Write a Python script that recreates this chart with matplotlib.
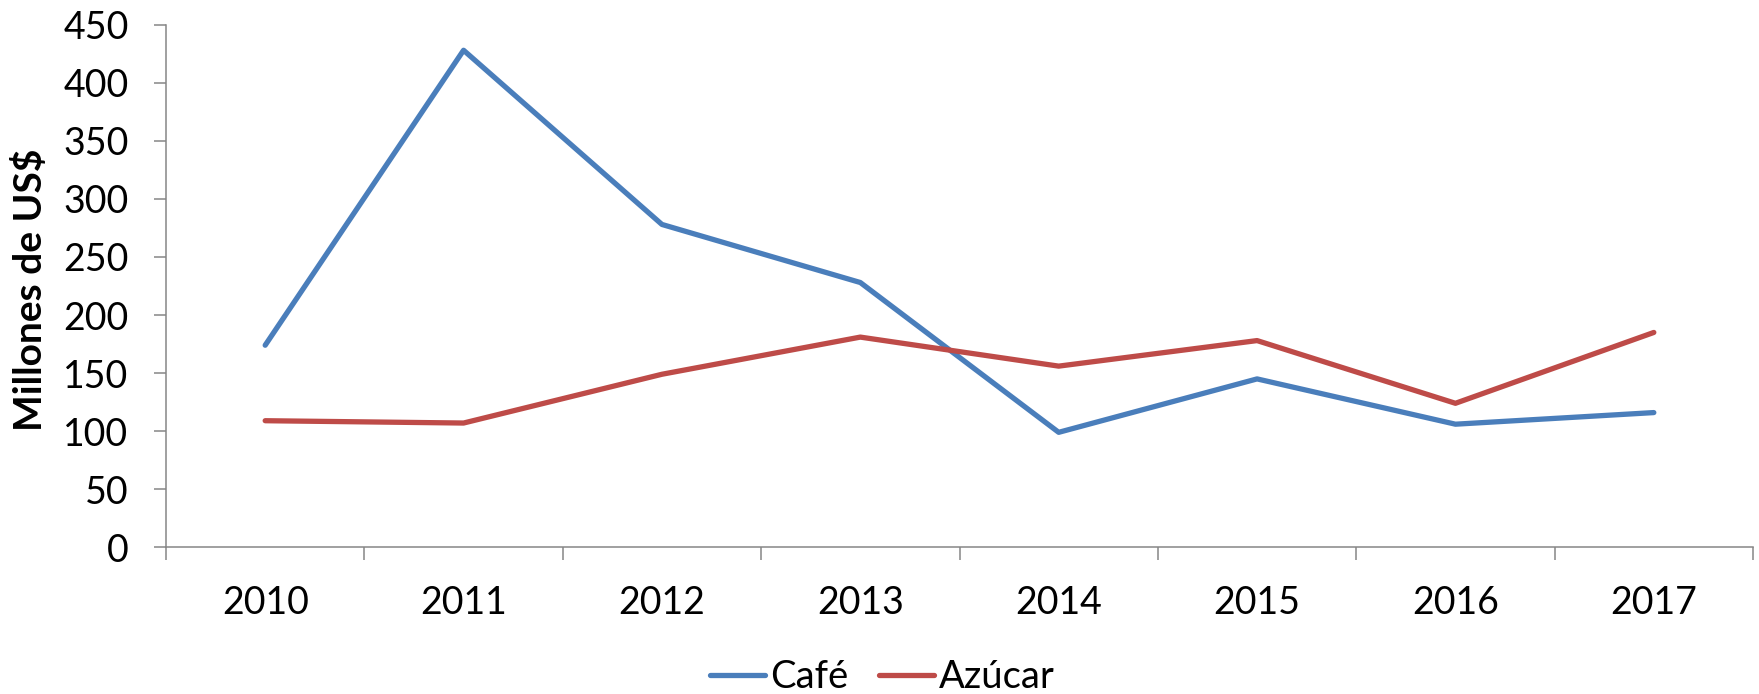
import matplotlib.pyplot as plt
from matplotlib.ticker import FixedLocator, NullFormatter

anios = ['2010', '2011', '2012', '2013', '2014', '2015', '2016', '2017']
cafe = [174, 428, 278, 228, 99, 145, 106, 116]
azucar = [109, 107, 149, 181, 156, 178, 124, 185]

plt.rcParams['font.family'] = ['Lato', 'DejaVu Sans']
plt.rcParams['font.size'] = 26

fig = plt.figure(figsize=(17.59, 6.94), dpi=100)
ax = fig.add_axes([166/1759, 1-547.3/694, (1753-166)/1759, (547.3-24.7)/694])

x = list(range(len(anios)))
ax.plot(x, cafe, color='#4a7ebb', lw=3.8, solid_capstyle='round', solid_joinstyle='round', label='Café')
ax.plot(x, azucar, color='#be4b48', lw=3.8, solid_capstyle='round', solid_joinstyle='round', label='Azúcar')

ax.set_xlim(-0.5, len(anios)-0.5)
ax.set_ylim(0, 450)
ax.set_yticks(range(0, 451, 50))

# ticks between categories, labels centred under each year
ax.xaxis.set_major_locator(FixedLocator([i-0.5 for i in range(len(anios)+1)]))
ax.xaxis.set_major_formatter(NullFormatter())
ax.xaxis.set_minor_locator(FixedLocator(x))
ax.set_xticklabels(anios, minor=True, fontsize=27)
ax.tick_params(axis='x', which='major', length=9, width=1.1, color='#868686', direction='out')
ax.tick_params(axis='x', which='minor', length=0, pad=27)
ax.tick_params(axis='y', length=9, width=1.1, color='#868686', direction='out', pad=18, labelsize=27)

for s in ['top', 'right']:
    ax.spines[s].set_visible(False)
for s in ['left', 'bottom']:
    ax.spines[s].set_color('#868686')
    ax.spines[s].set_linewidth(1.1)

fig.text(30/1759, 1-290/694, 'Millones de US$', rotation=90, ha='center', va='center',
         fontsize=28, fontweight='bold')

fig.legend(loc='center', bbox_to_anchor=(882/1759, 1-677/694), ncol=2, frameon=False,
           handlelength=1.45, handletextpad=0.12, columnspacing=0.8, fontsize=27.5)

fig.savefig('out.png', dpi=100)
